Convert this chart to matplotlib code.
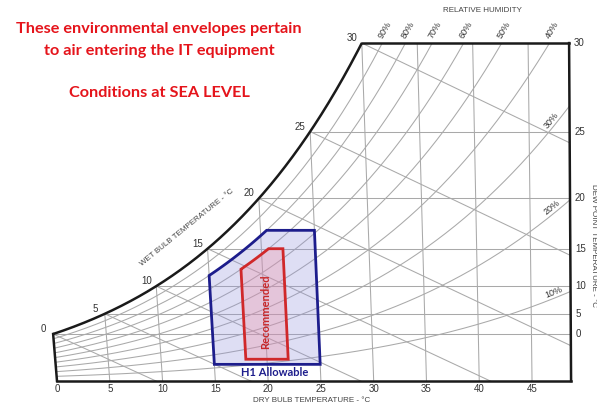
import numpy as np
import matplotlib
matplotlib.use("Agg")
import matplotlib.pyplot as plt
from matplotlib.patches import Polygon

# ---------------- data ----------------
dry_bulb_ticks = [0, 5, 10, 15, 20, 25, 30, 35, 40, 45]
wet_bulb_ticks = [0, 5, 10, 15, 20, 25, 30]
dew_point_ticks = [0, 5, 10, 15, 20, 25, 30]
rh_levels = [10, 20, 30, 40, 50, 60, 70, 80, 90]
rh_top_labels = [90, 80, 70, 60, 50, 40]
rh_side_labels = [30, 20, 10]
chart_max_db = 48.7          # right border of chart (dry bulb, deg C)
chart_top_wb = 30            # top-left corner of chart (saturation, deg C)

h1_allowable = dict(db_min=15, db_max=25, dp_min=-12, dp_max=17, rh_max=80)
recommended = dict(db_min=18, db_max=22, dp_min=-9, dp_max=15, rh_max=70)

title_lines = ["These environmental envelopes pertain", "to air entering the IT equipment"]
subtitle = "Conditions at SEA LEVEL"

# ---------------- psychrometrics ----------------
P = 101.325


def psat(T):
    T = np.asarray(T, dtype=float)
    water = 0.61094 * np.exp(17.625 * T / (T + 243.04))
    ice = 0.61115 * np.exp(22.452 * T / (272.55 + T))
    return np.where(T >= 0, water, ice)


def w_pv(pv):
    return 622.0 * pv / (P - pv)


def w_rh(T, rh):
    return w_pv(rh / 100.0 * psat(T))


def w_dp(Td):
    return w_pv(psat(Td))


def w_wb(T, Twb):
    ws = w_dp(Twb) / 1000.0
    return ((2501 - 2.326 * Twb) * ws - 1.006 * (T - Twb)) / (2501 + 1.86 * T - 4.186 * Twb) * 1000.0


def X(T, w):
    # oblique chart coordinate: dry-bulb lines lean slightly
    return T - w * (0.097 - 0.00185 * T)


# ---------------- figure ----------------
W_PX, H_PX = 597, 407
X0, Y0, SX, SY = 57, 381, 10.556, 12.45
fig = plt.figure(figsize=(W_PX / 100, H_PX / 100), dpi=100)
ax = fig.add_axes([0, 0, 1, 1])
ax.set_xlim(-X0 / SX, (W_PX - X0) / SX)
ax.set_ylim((Y0 - H_PX) / SY, Y0 / SY)
ax.axis("off")

GRID = "#a9a9a9"
DARK = "#1a1a1a"
TXT = "#333333"
FONT = "Liberation Sans"


def fp(x, y):
    return x / W_PX, 1 - y / H_PX


W_TOP = float(w_dp(chart_top_wb))

# chart region
Ts = np.linspace(0, chart_top_wb, 300)
ws_sat = w_dp(Ts)
w_edge = np.linspace(W_TOP, 0, 50)
region = np.vstack([
    np.column_stack([X(Ts, ws_sat), ws_sat]),
    np.column_stack([X(chart_max_db, w_edge), w_edge]),
    [[X(0, 0), 0]],
])
clip = Polygon(region, closed=True, transform=ax.transData, fc="none", ec="none")
ax.add_patch(clip)


def grid_line(xs, ys):
    ln, = ax.plot(xs, ys, color=GRID, lw=0.75, zorder=1)
    ln.set_clip_path(clip)


# dry bulb lines
wv = np.linspace(0, 32, 60)
for T in dry_bulb_ticks[1:]:
    grid_line(X(T, wv), wv)

# dew point lines
for td in dew_point_ticks[:-1]:
    w = float(w_dp(td))
    Tv = np.linspace(td, chart_max_db + 2, 60)
    grid_line(X(Tv, w), np.full_like(Tv, w))

# RH curves
Tall = np.linspace(0, 60, 400)
for rh in rh_levels:
    w = w_rh(Tall, rh)
    grid_line(X(Tall, w), w)

# wet bulb lines
for twb in wet_bulb_ticks:
    Tv = np.linspace(twb, twb + 60, 200)
    w = w_wb(Tv, twb)
    grid_line(X(Tv, w), w)

# borders
ax.plot(X(Ts, ws_sat), ws_sat, color=DARK, lw=1.8, zorder=5, solid_capstyle="butt")
w0 = float(w_dp(0))
wl = np.array([0, w0])
ax.plot(X(0, wl), wl, color=DARK, lw=1.8, zorder=5)
ax.plot([X(0, 0), X(chart_max_db, 0)], [0, 0], color=DARK, lw=1.8, zorder=5)
ax.plot(X(chart_max_db, w_edge), w_edge, color=DARK, lw=1.8, zorder=5)
ax.plot([X(chart_top_wb, W_TOP), X(chart_max_db, W_TOP)], [W_TOP, W_TOP], color=DARK, lw=1.8, zorder=5)


# envelopes
def envelope(e):
    wlo, whi = float(w_dp(e["dp_min"])), float(w_dp(e["dp_max"]))
    Tg = np.linspace(e["db_min"], e["db_max"], 400)
    wr = w_rh(Tg, e["rh_max"])
    tstar = float(np.interp(whi, wr, Tg))
    Tc = np.linspace(e["db_min"], tstar, 30)
    wc = w_rh(Tc, e["rh_max"])
    pts = [(e["db_min"], wlo)] + list(zip(Tc, wc)) + [(e["db_max"], whi), (e["db_max"], wlo)]
    pts = np.array(pts)
    return np.column_stack([X(pts[:, 0], pts[:, 1]), pts[:, 1]])


ax.add_patch(Polygon(envelope(h1_allowable), closed=True, fc=(0.58, 0.58, 0.86, 0.30),
                     ec="#1d1d8c", lw=2.0, zorder=3, joinstyle="miter"))
ax.add_patch(Polygon(envelope(recommended), closed=True, fc=(0.96, 0.55, 0.62, 0.30),
                     ec="#d0282a", lw=2.0, zorder=4, joinstyle="miter"))

# ---------------- labels ----------------
for T in dry_bulb_ticks:
    ax.annotate(str(T), (X(T, 0), 0), xytext=(0, -8), textcoords="offset pixels",
                ha="center", va="center", fontsize=7, color=TXT, family=FONT)

for twb in wet_bulb_ticks:
    w = float(w_dp(twb))
    ax.annotate(str(twb), (X(twb, w), w), xytext=(-10, 5), textcoords="offset pixels",
                ha="center", va="center", fontsize=7, color=TXT, family=FONT)

for td in dew_point_ticks:
    w = float(w_dp(td))
    ax.annotate(str(td), (X(chart_max_db, w), w), xytext=(5, 0), textcoords="offset pixels",
                ha="left", va="center", fontsize=7, color=TXT, family=FONT)

for rh in rh_top_labels:
    wr = w_rh(Tall, rh)
    Tc = float(np.interp(W_TOP, wr, Tall))
    ax.annotate(f"{rh}%", (X(Tc, W_TOP), W_TOP), xytext=(2, 3), textcoords="offset pixels",
                ha="left", va="bottom", rotation=60, rotation_mode="anchor",
                fontsize=6.5, color=TXT, family=FONT)

for rh in rh_side_labels:
    wr = w_rh(Tall, rh)
    xs = X(Tall, wr)
    xt = X(chart_max_db, 15) - 1.4
    Tc = float(np.interp(xt, xs, Tall))
    w1, w2 = float(w_rh(Tc - 0.3, rh)), float(w_rh(Tc + 0.3, rh))
    x1, x2 = float(X(Tc - 0.3, w1)), float(X(Tc + 0.3, w2))
    ang = np.degrees(np.arctan2((w2 - w1) * SY, (x2 - x1) * SX))
    wc = float(w_rh(Tc, rh))
    ax.annotate(f"{rh}%", (X(Tc, wc), wc), xytext=(0, 1), textcoords="offset pixels",
                ha="center", va="bottom", rotation=ang, rotation_mode="anchor",
                fontsize=6.5, color=TXT, family=FONT)

fig.text(*fp(312, 400), "DRY BULB TEMPERATURE - \u00b0C", ha="center", va="center",
         fontsize=5.8, color="#444444", family=FONT)
fig.text(*fp(187, 228), "WET BULB TEMPERATURE - \u00b0C", ha="center", va="center",
         rotation=39, fontsize=5.8, color="#444444", family=FONT)
fig.text(*fp(482, 10), "RELATIVE HUMIDITY", ha="center", va="center",
         fontsize=5.8, color="#444444", family=FONT)
fig.text(*fp(594, 246), "DEW POINT TEMPERATURE - \u00b0C", ha="center", va="center",
         rotation=270, fontsize=5.8, color="#444444", family=FONT)

fig.text(*fp(275, 372), "H1 Allowable", ha="center", va="center", fontsize=8,
         fontweight="bold", color="#1d1d8c", family="Lato", zorder=10)
fig.text(*fp(266, 312), "Recommended", ha="center", va="center", rotation=90, fontsize=8,
         fontweight="bold", color="#c8282a", family="Lato", zorder=10)

RED = "#e5141b"
fig.text(*fp(159, 29), title_lines[0], ha="center", va="center", fontsize=11.7,
         fontweight="bold", color=RED, family="Lato")
fig.text(*fp(159.5, 51), title_lines[1], ha="center", va="center", fontsize=11.7,
         fontweight="bold", color=RED, family="Lato")
fig.text(*fp(159.5, 93), subtitle, ha="center", va="center", fontsize=11.7,
         fontweight="bold", color=RED, family="Lato")

fig.savefig("out.png", dpi=100, facecolor="white")
